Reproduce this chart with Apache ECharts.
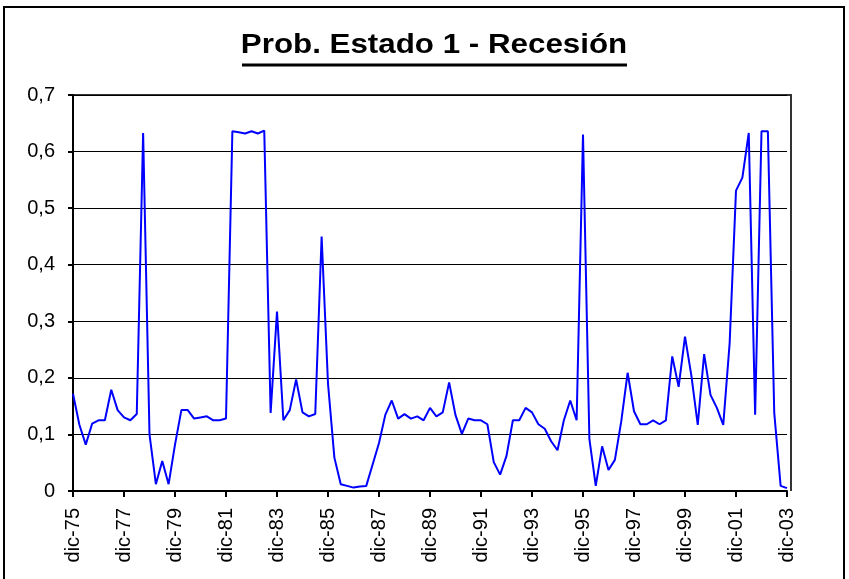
<!DOCTYPE html>
<html>
<head>
<meta charset="utf-8">
<script src="https://cdn.jsdelivr.net/npm/echarts@6/dist/echarts.min.js"></script>
<style>
  html, body { margin: 0; padding: 0; background: #fff; }
  #charts { width: 849px; height: 579px; }
</style>
</head>
<body>
<div id="charts"></div>
<script>
    // trimestres: dic-75 ... dic-03
    var meses = ['mar', 'jun', 'sep', 'dic'];
    var primerAnio = 1975;
    var ultimoAnio = 2003;

    var prob = [
        0.172, 0.117, 0.082, 0.119, 0.125, 0.125, 0.179, 0.143, 0.130, 0.125,
        0.136, 0.633, 0.100, 0.012, 0.053, 0.012, 0.082, 0.143, 0.143, 0.128,
        0.130, 0.132, 0.125, 0.125, 0.128, 0.636, 0.634, 0.632, 0.636, 0.632,
        0.637, 0.138, 0.317, 0.125, 0.143, 0.197, 0.139, 0.132, 0.136, 0.450,
        0.190, 0.059, 0.012, 0.009, 0.006, 0.008, 0.009, 0.047, 0.085, 0.135,
        0.160, 0.128, 0.136, 0.128, 0.132, 0.125, 0.147, 0.132, 0.139, 0.192,
        0.134, 0.101, 0.128, 0.125, 0.125, 0.118, 0.051, 0.029, 0.062, 0.125,
        0.125, 0.147, 0.139, 0.118, 0.110, 0.088, 0.072, 0.125, 0.160, 0.125,
        0.630, 0.092, 0.009, 0.079, 0.037, 0.055, 0.123, 0.209, 0.141, 0.118,
        0.118, 0.125, 0.118, 0.125, 0.238, 0.184, 0.273, 0.204, 0.117, 0.242,
        0.170, 0.147, 0.117, 0.261, 0.531, 0.554, 0.633, 0.135, 0.636, 0.636,
        0.138, 0.009, 0.005
    ];

    var fechas = ['dic-' + String(primerAnio).slice(2)];
    for (var a = primerAnio + 1; a <= ultimoAnio; a++) {
        for (var m = 0; m < meses.length; m++) {
            fechas.push(meses[m] + '-' + String(a).slice(2));
        }
    }

    var myChart = echarts.init(document.getElementById('charts'));
    myChart.setOption({
        animation: false,
        backgroundColor: '#fff',
        graphic: [
            {
                type: 'rect',
                shape: { x: 4, y: 7, width: 840, height: 620 },
                style: { fill: 'none', stroke: '#000', lineWidth: 2 }
            },
            {
                // titulo (el original esta estirado en horizontal)
                type: 'text',
                x: 434,
                y: 46,
                scaleX: 1.16,
                style: {
                    text: 'Prob. Estado 1 - Recesión',
                    align: 'center',
                    verticalAlign: 'middle',
                    fontFamily: 'Liberation Sans, Arial',
                    fontWeight: 'bold',
                    fontSize: 27,
                    fill: '#000'
                }
            },
            {
                type: 'line',
                shape: { x1: 242, y1: 65, x2: 627, y2: 65 },
                style: { stroke: '#000', lineWidth: 3 }
            },
            {
                type: 'polyline',
                shape: { points: [[72, 95], [791, 95], [791, 491]] },
                style: { fill: 'none', stroke: '#333', lineWidth: 2 }
            }
        ],
        grid: {
            left: 73,
            right: 62,
            top: 95,
            bottom: 88
        },
        xAxis: {
            type: 'category',
            boundaryGap: false,
            data: fechas,
            axisLine: { lineStyle: { color: '#000', width: 2 } },
            axisTick: { interval: 7, length: 6, lineStyle: { color: '#000', width: 2 } },
            axisLabel: {
                interval: 7,
                rotate: 90,
                margin: 17,
                color: '#000',
                fontFamily: 'Liberation Sans, Arial',
                fontSize: 20
            },
            splitLine: { show: false }
        },
        yAxis: {
            type: 'value',
            min: 0,
            max: 0.7,
            interval: 0.1,
            axisLine: { show: true, lineStyle: { color: '#000', width: 2 } },
            axisTick: { show: true, length: 5, lineStyle: { color: '#000', width: 2 } },
            axisLabel: {
                margin: 18,
                color: '#000',
                fontFamily: 'Liberation Sans, Arial',
                fontSize: 20,
                formatter: function (v) {
                    return String(Math.round(v * 10) / 10).replace('.', ',');
                }
            },
            splitLine: { lineStyle: { color: '#000', width: 1 } }
        },
        series: [
            {
                name: 'Prob. Estado 1',
                type: 'line',
                data: prob,
                showSymbol: false,
                lineStyle: { color: '#0000ff', width: 2 }
            }
        ]
    });
</script>
</body>
</html>
